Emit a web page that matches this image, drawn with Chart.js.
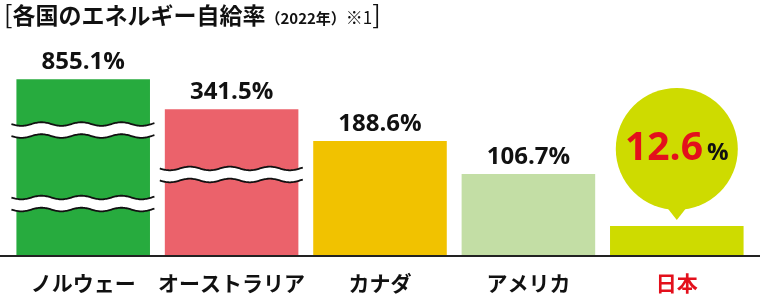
<!DOCTYPE html>
<html>
  <head>
    <meta charset="utf-8">
    <title>各国のエネルギー自給率</title>
    <script src="https://cdn.jsdelivr.net/npm/chart.js@4.4.1/dist/chart.umd.min.js"></script>
    <style>
      body { margin: 0; background: #fff; }
      #wrap { position: relative; width: 760px; height: 303px; }
      #title {
        position: absolute; left: 4px; top: 0px;
        font-family: "Noto Sans CJK JP", sans-serif; font-weight: 700;
        font-size: 23px; line-height: 26px; color: #111; white-space: nowrap;
      }
      #title .br { font-weight: 400; font-size: 25px; }
      #title .yr { font-size: 15px; }
      #title .nt { font-size: 17px; font-weight: 400; }
    </style>
    <script>
      // countries and their energy self-sufficiency rate (2022, %)
      const countries = ['ノルウェー', 'オーストラリア', 'カナダ', 'アメリカ', '日本'];
      const rates = [855.1, 341.5, 188.6, 106.7, 12.6];
      // bar lengths as drawn in the picture (axis is broken, not to scale), 0-100
      const barHeights = [79.9, 66.2, 51.8, 36.8, 13.2];
      // where the wavy break marks sit: [bar index, axis value]
      const breakMarks = [[0, 56.8], [0, 23.4], [1, 36.6]];
      const barColors = ['#27ab3e', '#eb626b', '#f1c200', '#c3dea5', '#cedb00'];
      const highlight = 4; // 日本

      // value labels, break marks and the speech bubble for Japan
      const decorations = {
        id: 'decorations',
        afterDatasetsDraw(chart) {
          const ctx = chart.ctx;
          const bars = chart.getDatasetMeta(0).data;
          const yScale = chart.scales.y;

          // baseline across the whole width
          ctx.save();
          ctx.strokeStyle = '#222';
          ctx.lineWidth = 2;
          ctx.beginPath();
          ctx.moveTo(0, chart.chartArea.bottom + 1);
          ctx.lineTo(chart.width, chart.chartArea.bottom + 1);
          ctx.stroke();

          // wavy break marks
          breakMarks.forEach(([i, v]) => {
            const bar = bars[i];
            const y = yScale.getPixelForValue(v);
            const x0 = bar.x - bar.width / 2 - 5;
            const x1 = bar.x + bar.width / 2 + 5;
            const wave = (x, off) => y + off + 1.8 * Math.sin((x - x0) / 40 * 2 * Math.PI);
            ctx.beginPath();
            for (let x = x0; x <= x1; x++) ctx.lineTo(x, wave(x, -6));
            for (let x = x1; x >= x0; x--) ctx.lineTo(x, wave(x, 6));
            ctx.closePath();
            ctx.fillStyle = '#fff';
            ctx.fill();
            ctx.strokeStyle = '#111';
            ctx.lineWidth = 1.8;
            [-6, 6].forEach(off => {
              ctx.beginPath();
              for (let x = x0; x <= x1; x++) ctx.lineTo(x, wave(x, off));
              ctx.stroke();
            });
          });

          // value labels above the bars
          ctx.textAlign = 'center';
          ctx.textBaseline = 'alphabetic';
          bars.forEach((bar, i) => {
            if (i === highlight) return;
            ctx.fillStyle = '#111';
            ctx.font = 'bold 24px "Open Sans"';
            ctx.fillText(rates[i].toFixed(1) + '%', bar.x, bar.y - 10);
          });

          // speech bubble for Japan
          const jp = bars[highlight];
          const r = 61;
          const cy = jp.y - 16 - r;
          ctx.fillStyle = barColors[highlight];
          ctx.beginPath();
          ctx.arc(jp.x, cy, r, 0, Math.PI * 2);
          ctx.fill();
          ctx.beginPath();
          ctx.moveTo(jp.x - 11, cy + r - 4);
          ctx.lineTo(jp.x + 11, cy + r - 4);
          ctx.lineTo(jp.x, jp.y - 6);
          ctx.closePath();
          ctx.fill();

          const big = rates[highlight].toFixed(1);
          ctx.font = 'bold 39px "Open Sans"';
          const wBig = ctx.measureText(big).width;
          ctx.font = 'bold 24px "Open Sans"';
          const wPct = ctx.measureText('%').width;
          const start = jp.x - (wBig + wPct + 4) / 2;
          ctx.textAlign = 'left';
          ctx.fillStyle = '#e3101c';
          ctx.font = 'bold 39px "Open Sans"';
          ctx.fillText(big, start, cy + 11);
          ctx.fillStyle = '#111';
          ctx.font = 'bold 24px "Open Sans"';
          ctx.fillText('%', start + wBig + 4, cy + 11);
          ctx.restore();
        }
      };

      function drawChart() {
        new Chart(document.getElementById('chart'), {
          type: 'bar',
          data: {
            labels: countries,
            datasets: [{
              data: barHeights,
              backgroundColor: barColors,
              borderWidth: 0,
              barPercentage: 0.9,
              categoryPercentage: 1.0
            }]
          },
          options: {
            responsive: false,
            animation: false,
            events: [],
            layout: { padding: { top: 35, left: 9, right: 9, bottom: 8 } },
            plugins: { legend: { display: false }, tooltip: { enabled: false } },
            scales: {
              x: {
                grid: { display: false, drawTicks: false },
                border: { display: false },
                afterFit: (s) => { s.height = 40; },
                ticks: {
                  padding: 15,
                  maxRotation: 0,
                  minRotation: 0,
                  autoSkip: false,
                  color: (c) => c.index === highlight ? '#e3101c' : '#111',
                  font: { family: '"Noto Sans CJK JP"', size: 21, weight: 'bold' }
                }
              },
              y: { display: false, min: 0, max: 100 }
            }
          },
          plugins: [decorations]
        });
      }
    </script>
  </head>
  <body onload="drawChart()">
    <div id="wrap">
      <canvas id="chart" width="760" height="303"></canvas>
      <div id="title"><span class="br">[</span>各国のエネルギー自給率<span class="yr">（2022年）</span><span class="nt">※1</span><span class="br">]</span></div>
    </div>
  </body>
</html>
